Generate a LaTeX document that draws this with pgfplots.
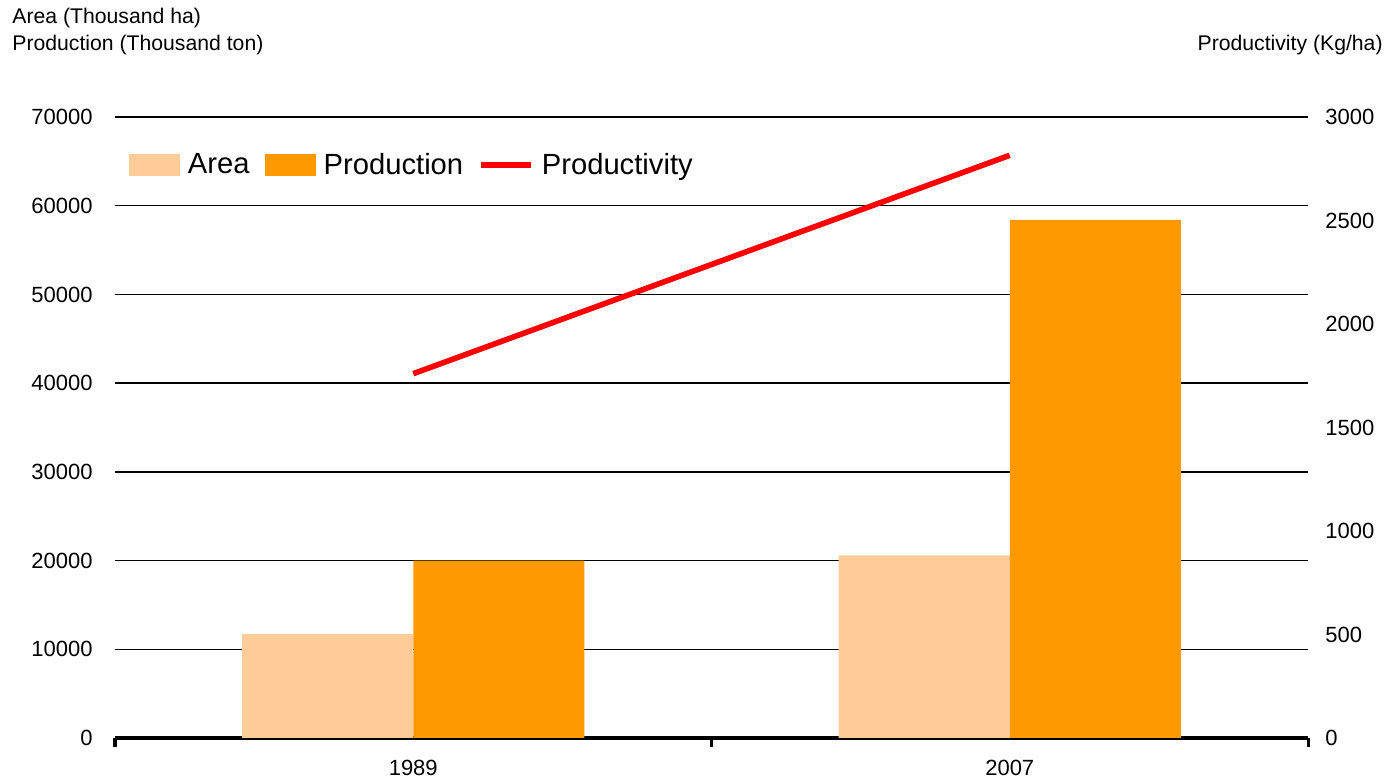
\documentclass[border=0pt]{standalone}
\usepackage{pgfplots}
\pgfplotsset{compat=1.18}
\usepackage{fontspec}
\setmainfont{Liberation Sans}
\definecolor{areac}{HTML}{FFCC99}
\definecolor{prodc}{HTML}{FF9900}

\begin{document}
\begin{tikzpicture}
\useasboundingbox (0,0) rectangle (698pt,390.5pt);
\pgfplotsset{every axis/.append style={
    scale only axis, width=596.5pt, height=310.5pt,
    at={(57.5pt,21.5pt)}, anchor=south west,
    xmin=-0.5, xmax=1.5,
    tick label style={font=\fontsize{11}{13}\selectfont},
    /pgf/number format/assume math mode=true,
    /pgf/number format/1000 sep={},
    scaled ticks=false,
}}
\begin{axis}[
    ymin=0, ymax=70000, ytick={0,10000,...,70000},
    axis lines*=left,
    x axis line style={-, line width=2pt, black},
    y axis line style={draw=none},
    ymajorgrids, grid style={black, line width=0.75pt},
    major tick length=0pt,
    tick style={draw=black, line width=1.5pt},
    ytick style={draw=none},
    yticklabel style={inner sep=0pt, xshift=-11pt},
    xtick={0,1}, xticklabels={1989,2007},
    xticklabel style={inner sep=0pt, yshift=-11pt},
    extra x ticks={-0.5,0.5,1.5}, extra x tick labels={},
    extra x tick style={tick align=outside, major tick length=4.5pt},
    legend columns=-1,
    legend style={draw=none, fill=none, at={(axis description cs:0.0117,0.9227)},
        anchor=west, inner sep=0pt, outer sep=0pt,
        font=\fontsize{14.6}{18}\selectfont, nodes={inner sep=0pt},
        /tikz/every odd column/.append style={column sep=4pt},
        /tikz/every even column/.append style={column sep=7.5pt}},
]
\addplot[ybar, bar width=0.2867, bar shift=-0.14335, fill=areac, draw=none,
    legend image code/.code={\fill[areac] (0pt,-5.5pt) rectangle (25.5pt,5.5pt);}]
    coordinates {(0,11700) (1,20600)};
\addlegendentry{Area}
\addplot[ybar, bar width=0.2867, bar shift=0.14335, fill=prodc, draw=none,
    legend image code/.code={\fill[prodc] (0pt,-5.5pt) rectangle (25.5pt,5.5pt);}]
    coordinates {(0,20000) (1,58400)};
\addlegendentry{Production}
\addlegendimage{red, line width=2.8pt,
    legend image code/.code={\draw[red, line width=2.8pt] (0pt,0pt) -- (25pt,0pt);}}
\addlegendentry{Productivity}
\end{axis}
\begin{axis}[
    ymin=0, ymax=3000, ytick={0,500,...,3000},
    axis y line*=right, hide x axis,
    y axis line style={draw=none},
    ytick style={draw=none},
    yticklabel style={inner sep=0pt, xshift=8.5pt, anchor=west},
]
\addplot[red, line width=2.8pt] coordinates {(0,1760) (1,2815)};
\end{axis}
\node[anchor=west, inner sep=0pt, font=\fontsize{10.6}{12}\selectfont] at (6pt,381.5pt) {Area (Thousand ha)};
\node[anchor=west, inner sep=0pt, font=\fontsize{10.6}{12}\selectfont] at (6pt,368pt) {Production (Thousand ton)};
\node[anchor=east, inner sep=0pt, font=\fontsize{10.6}{12}\selectfont] at (691.5pt,368pt) {Productivity (Kg/ha)};
\end{tikzpicture}
\end{document}
